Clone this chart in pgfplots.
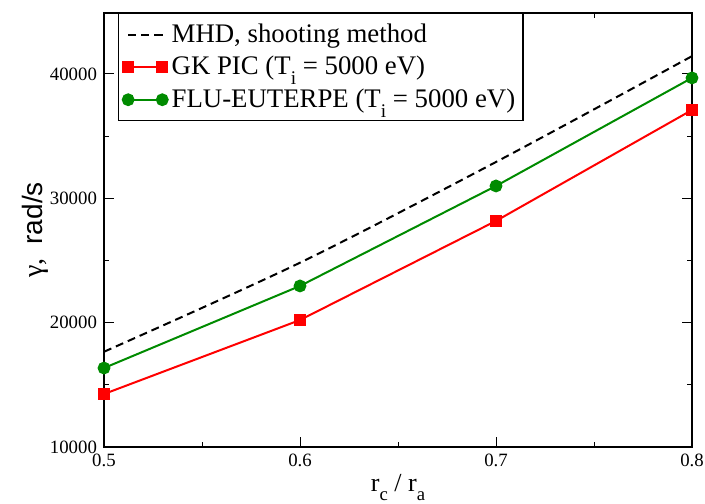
\documentclass[border=0pt]{standalone}
\usepackage{fontspec}
\setmainfont{Liberation Serif}
\setsansfont{Liberation Sans}
\usepackage{pgfplots}
\pgfplotsset{compat=1.18}
\definecolor{grgreen}{RGB}{0,139,0}
% grace-style low subscript
\newcommand\sub[1]{\raisebox{-0.36em}{\fontsize{0.72em}{1em}\selectfont #1}}
\begin{document}
\begin{tikzpicture}
\begin{axis}[
    scale only axis,
    width=294pt, height=217pt,
    xmin=0.5, xmax=0.8,
    ymin=10000, ymax=44900,
    xtick={0.5,0.6,0.7,0.8},
    ytick={10000,20000,30000,40000},
    minor x tick num=1, minor y tick num=1,
    tick align=inside,
    major tick length=5pt, minor tick length=2.5pt,
    tick style={black, line width=0.5pt},
    axis line style={line width=1pt},
    scaled y ticks=false,
    /pgf/number format/assume math mode=true,
    yticklabel style={/pgf/number format/set thousands separator={}},
    xticklabel style={/pgf/number format/.cd, fixed, precision=1, fixed zerofill},
    tick label style={font=\fontsize{9.4}{11}\selectfont},
    xlabel={r\sub{c} / r\sub{a}},
    ylabel={{\rmfamily γ},\ \ \sffamily rad/s},
    every axis x label/.style={at={(axis description cs:0.5,0)}, anchor=base, yshift=-22pt, font=\fontsize{13}{15}\selectfont},
    every axis y label/.style={at={(axis description cs:-0.116,0.5)}, anchor=center, rotate=90, font=\fontsize{14}{16}\selectfont},
    legend style={
        at={(axis description cs:0.0238,1)},
        anchor=north west,
        draw=black, line width=0.75pt,
        fill=white,
        font=\fontsize{13.4}{16}\selectfont,
        cells={anchor=west},
        inner xsep=2pt, inner ysep=3pt,
        row sep=1.5pt,
    },
    legend image code/.code={
        \draw[mark repeat=2, mark phase=1] plot coordinates {(0cm,0cm) (0.3cm,0cm) (0.6cm,0cm)};
    },
]

% MHD reference curve
\addplot[black, line width=1pt, dash pattern=on 4pt off 2.5pt, smooth] coordinates {
    (0.5,17660)
    (0.6,24820)
    (0.7,32920)
    (0.8,41430)
};
\addlegendentry{MHD, shooting method}

% GK PIC
\addplot[red, line width=1pt, mark=square*, mark size=2.5pt, mark options={solid}] coordinates {
    (0.5,14260)
    (0.6,20210)
    (0.7,28180)
    (0.8,37100)
};
\addlegendentry{GK PIC (T\sub{i} = 5000 eV)}

% FLU-EUTERPE
\addplot[grgreen, line width=1pt, mark=*, mark size=2.7pt, mark options={solid}] coordinates {
    (0.5,16350)
    (0.6,22950)
    (0.7,30990)
    (0.8,39680)
};
\addlegendentry{FLU-EUTERPE (T\sub{i} = 5000 eV)}

\end{axis}
\pgfresetboundingbox
\path ([shift={(-52pt,-28pt)}]current axis.south west) rectangle ([shift={(6.5pt,6.5pt)}]current axis.north east);
\end{tikzpicture}
\end{document}
